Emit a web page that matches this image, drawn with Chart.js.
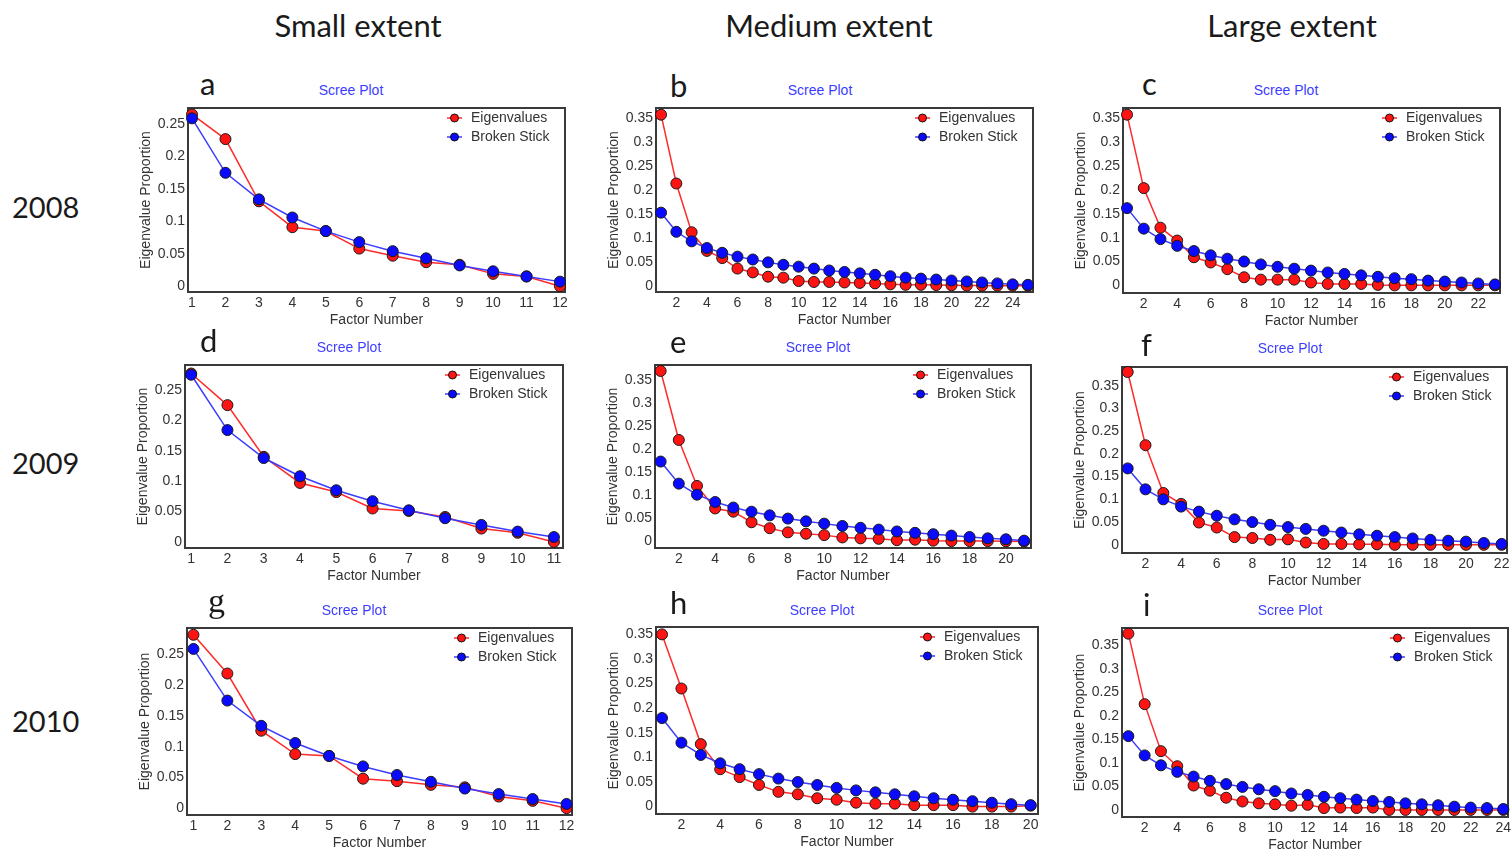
<!DOCTYPE html>
<html>
<head>
<meta charset="utf-8">
<script src="https://cdn.jsdelivr.net/npm/chart.js@4/dist/chart.umd.min.js"></script>
<style>
  body { margin: 0; width: 1511px; height: 855px; position: relative; overflow: hidden; background: #fff; font-family: Lato, sans-serif; }
  .txt { position: absolute; color: #1a1a1a; white-space: nowrap; line-height: 1; }
  .head { font-size: 31px; transform: translateX(-50%); }
  .year { font-size: 29px; }
  .letter { font-size: 31px; }
  .serif { font-family: "Liberation Serif", serif; font-size: 34px; }
  .scree { position: absolute; font: 14px "Liberation Sans", Arial, sans-serif; color: #3c3cff; line-height: 1; white-space: nowrap; transform: translate(-50%, -50%); }
  .panel { position: absolute; }
</style>
</head>
<body>
<div class="txt head" style="left:358px; top:10px">Small extent</div>
<div class="txt head" style="left:829px; top:10px">Medium extent</div>
<div class="txt head" style="left:1292px; top:10px">Large extent</div>

<div class="txt year" style="left:12px; top:192px">2008</div>
<div class="txt year" style="left:12px; top:448px">2009</div>
<div class="txt year" style="left:12px; top:706px">2010</div>

<script>
// Tick labels
const xTicks12 = [1, 2, 3, 4, 5, 6, 7, 8, 9, 10, 11, 12];
const xTicks11 = [1, 2, 3, 4, 5, 6, 7, 8, 9, 10, 11];
const xTicksEven24 = [2, 4, 6, 8, 10, 12, 14, 16, 18, 20, 22, 24];
const xTicksEven22 = [2, 4, 6, 8, 10, 12, 14, 16, 18, 20, 22];
const xTicksEven20 = [2, 4, 6, 8, 10, 12, 14, 16, 18, 20];
const yTicks25 = [0, 0.05, 0.1, 0.15, 0.2, 0.25];
const yTicks35 = [0, 0.05, 0.1, 0.15, 0.2, 0.25, 0.3, 0.35];

// 2008
const eigA = [0.265, 0.227, 0.131, 0.091, 0.085, 0.058, 0.047, 0.037, 0.033, 0.019, 0.015, 0.000];
const stickA = [0.259, 0.175, 0.134, 0.106, 0.085, 0.068, 0.054, 0.043, 0.032, 0.023, 0.015, 0.007];
const eigB = [0.358, 0.214, 0.112, 0.073, 0.058, 0.036, 0.028, 0.019, 0.017, 0.010, 0.008, 0.008, 0.007,
              0.006, 0.005, 0.003, 0.002, 0.002, 0.0015, 0.001, 0.0005, 0.0004, 0.0003, 0.0002, 0.0001];
const stickB = [0.153, 0.113, 0.093, 0.079, 0.069, 0.061, 0.055, 0.049, 0.044, 0.040, 0.036, 0.032, 0.029,
                0.026, 0.023, 0.020, 0.017, 0.015, 0.013, 0.011, 0.009, 0.007, 0.005, 0.003, 0.002];
const eigC = [0.358, 0.204, 0.121, 0.094, 0.059, 0.048, 0.034, 0.017, 0.012, 0.012, 0.012, 0.006,
              0.003, 0.003, 0.003, 0.001, 0, 0, 0, 0, 0, 0, 0];
const stickC = [0.162, 0.119, 0.097, 0.083, 0.072, 0.063, 0.056, 0.050, 0.044, 0.039, 0.035, 0.031,
                0.027, 0.024, 0.021, 0.018, 0.015, 0.013, 0.010, 0.008, 0.006, 0.004, 0.002];

// 2009
const eigD = [0.277, 0.225, 0.140, 0.097, 0.082, 0.055, 0.051, 0.041, 0.022, 0.015, 0.000];
const stickD = [0.275, 0.184, 0.138, 0.108, 0.085, 0.067, 0.052, 0.039, 0.028, 0.017, 0.008];
const eigE = [0.371, 0.221, 0.121, 0.072, 0.065, 0.042, 0.029, 0.020, 0.017, 0.014, 0.009,
              0.007, 0.006, 0.003, 0.004, 0.002, 0.001, 0.001, 0.001, 0.0005, 0];
const stickE = [0.174, 0.126, 0.102, 0.086, 0.074, 0.065, 0.057, 0.050, 0.044, 0.039, 0.034,
                0.030, 0.026, 0.022, 0.019, 0.016, 0.013, 0.010, 0.007, 0.005, 0.002];
const eigF = [0.380, 0.219, 0.114, 0.090, 0.049, 0.038, 0.017, 0.015, 0.011, 0.012, 0.005,
              0.002, 0.002, 0.001, 0.001, 0, 0, 0, 0, 0, 0, 0];
const stickF = [0.168, 0.122, 0.100, 0.084, 0.073, 0.064, 0.056, 0.050, 0.044, 0.039, 0.035,
                0.031, 0.027, 0.023, 0.020, 0.017, 0.014, 0.011, 0.009, 0.007, 0.004, 0.002];

// 2010
const eigG = [0.282, 0.219, 0.126, 0.088, 0.085, 0.048, 0.044, 0.038, 0.034, 0.019, 0.012, 0.000];
const stickG = [0.259, 0.175, 0.134, 0.106, 0.085, 0.068, 0.054, 0.043, 0.032, 0.023, 0.015, 0.007];
const eigH = [0.350, 0.240, 0.127, 0.076, 0.060, 0.044, 0.030, 0.025, 0.017, 0.014,
              0.008, 0.006, 0.006, 0.003, 0.003, 0.003, 0, 0, 0, 0.002];
const stickH = [0.180, 0.130, 0.105, 0.088, 0.076, 0.066, 0.057, 0.050, 0.044, 0.038,
                0.033, 0.029, 0.025, 0.021, 0.017, 0.014, 0.011, 0.008, 0.005, 0.003];
const eigI = [0.375, 0.225, 0.125, 0.093, 0.052, 0.041, 0.026, 0.018, 0.014, 0.012, 0.009, 0.011,
              0.004, 0.005, 0.004, 0.005, 0, 0, 0, 0, 0, 0, 0, 0];
const stickI = [0.157, 0.116, 0.095, 0.081, 0.071, 0.062, 0.055, 0.049, 0.044, 0.040, 0.035, 0.032,
                0.028, 0.025, 0.022, 0.019, 0.017, 0.014, 0.012, 0.010, 0.007, 0.005, 0.004, 0.002];

const SANS = '"Liberation Sans", Arial, sans-serif';
const TEXT = '#333';

// Plot boxes [left, top, right, bottom] and axis ranges for each panel
const panels = [
  { letter: 'a', eig: eigA, stick: stickA, xTicks: xTicks12, yTicks: yTicks25, box: [188, 108, 565, 292], x: [0.88, 12.15], y: [-0.009, 0.275], lt: [200, 68], st: [351, 90] },
  { letter: 'b', eig: eigB, stick: stickB, xTicks: xTicksEven24, yTicks: yTicks35, box: [656, 108, 1033, 292], x: [0.67, 25.33], y: [-0.013, 0.372], lt: [670, 70], st: [820, 90] },
  { letter: 'c', eig: eigC, stick: stickC, xTicks: xTicksEven22, yTicks: yTicks35, box: [1123, 108, 1500, 293], x: [0.76, 23.3], y: [-0.016, 0.372], lt: [1142, 68], st: [1286, 90] },
  { letter: 'd', eig: eigD, stick: stickD, xTicks: xTicks11, yTicks: yTicks25, box: [185, 365, 563, 548], x: [0.83, 11.25], y: [-0.010, 0.291], lt: [200, 325], st: [349, 347] },
  { letter: 'e', eig: eigE, stick: stickE, xTicks: xTicksEven20, yTicks: yTicks35, box: [655, 365, 1031, 548], x: [0.69, 21.38], y: [-0.014, 0.384], lt: [670, 326], st: [818, 347] },
  { letter: 'f', eig: eigF, stick: stickF, xTicks: xTicksEven22, yTicks: yTicks35, box: [1122, 367, 1507, 553], x: [0.68, 22.3], y: [-0.018, 0.391], lt: [1141, 329], st: [1290, 348] },
  { letter: 'g', eig: eigG, stick: stickG, xTicks: xTicks12, yTicks: yTicks25, box: [187, 628, 572, 815], x: [0.81, 12.16], y: [-0.011, 0.293], lt: [208, 584], st: [354, 610], serif: true },
  { letter: 'h', eig: eigH, stick: stickH, xTicks: xTicksEven20, yTicks: yTicks35, box: [656, 627, 1038, 814], x: [0.69, 20.38], y: [-0.015, 0.365], lt: [670, 587], st: [822, 610] },
  { letter: 'i', eig: eigI, stick: stickI, xTicks: xTicksEven24, yTicks: yTicks35, box: [1122, 628, 1508, 817], x: [0.61, 24.29], y: [-0.015, 0.387], lt: [1143, 589], st: [1290, 610] }
];

// dark frame around the plot area
const framePlugin = {
  id: 'frame',
  beforeDatasetsDraw(chart) {
    const { ctx, chartArea: a } = chart;
    ctx.save();
    ctx.strokeStyle = '#3a3a3a';
    ctx.lineWidth = 2;
    ctx.strokeRect(a.left, a.top, a.right - a.left, a.bottom - a.top);
    ctx.restore();
  }
};

// legend drawn inside the top right corner
const legendPlugin = {
  id: 'insideLegend',
  afterDatasetsDraw(chart) {
    const { ctx, chartArea: a } = chart;
    ctx.save();
    chart.data.datasets.forEach((ds, i) => {
      const y = a.top + 10 + i * 19;
      const x0 = a.right - 118;
      ctx.strokeStyle = ds.borderColor;
      ctx.lineWidth = 1.5;
      ctx.beginPath();
      ctx.moveTo(x0, y);
      ctx.lineTo(x0 + 15, y);
      ctx.stroke();
      ctx.fillStyle = ds.pointBackgroundColor;
      ctx.strokeStyle = '#111';
      ctx.lineWidth = 1;
      ctx.beginPath();
      ctx.arc(x0 + 7.5, y, 4, 0, Math.PI * 2);
      ctx.fill();
      ctx.stroke();
      ctx.fillStyle = TEXT;
      ctx.font = '14px ' + SANS;
      ctx.textBaseline = 'middle';
      ctx.fillText(ds.label, x0 + 24, y);
    });
    ctx.restore();
  }
};

const Y_W = 54, PAD_T = 12, PAD_R = 16, X_H = 41;

function addText(cls, text, left, top) {
  const el = document.createElement('div');
  el.className = cls;
  el.textContent = text;
  el.style.left = left + 'px';
  el.style.top = top + 'px';
  document.body.appendChild(el);
}

function drawPanel(p) {
  const [l, t, r, b] = p.box;
  addText(p.serif ? 'txt serif' : 'txt letter', p.letter, p.lt[0], p.lt[1]);
  addText('scree', 'Scree Plot', p.st[0], p.st[1]);

  const wrap = document.createElement('div');
  wrap.className = 'panel';
  wrap.style.left = (l - Y_W) + 'px';
  wrap.style.top = (t - PAD_T) + 'px';
  wrap.style.width = (r - l + Y_W + PAD_R) + 'px';
  wrap.style.height = (b - t + PAD_T + X_H) + 'px';
  const canvas = document.createElement('canvas');
  wrap.appendChild(canvas);
  document.body.appendChild(wrap);

  const font = { family: SANS, size: 14 };
  const pointStyle = {
    borderWidth: 1.5,
    tension: 0,
    pointRadius: 5.5,
    pointBorderWidth: 1,
    pointBorderColor: '#1a1a1a',
    clip: false
  };

  new Chart(canvas, {
    type: 'line',
    data: {
      datasets: [
        Object.assign({
          label: 'Eigenvalues',
          data: p.eig.map((v, i) => ({ x: i + 1, y: v })),
          borderColor: '#ff2a2a',
          pointBackgroundColor: '#ff1414',
          order: 1
        }, pointStyle),
        Object.assign({
          label: 'Broken Stick',
          data: p.stick.map((v, i) => ({ x: i + 1, y: v })),
          borderColor: '#3c3cff',
          pointBackgroundColor: '#0a0aff',
          order: 0
        }, pointStyle)
      ]
    },
    options: {
      responsive: true,
      maintainAspectRatio: false,
      animation: false,
      layout: { padding: { top: PAD_T, right: PAD_R, left: 0, bottom: 0 } },
      plugins: { legend: { display: false }, tooltip: { enabled: false } },
      scales: {
        x: {
          type: 'linear',
          min: p.x[0],
          max: p.x[1],
          grid: { display: false, drawTicks: false },
          border: { display: false },
          afterBuildTicks: s => { s.ticks = p.xTicks.map(v => ({ value: v })); },
          afterFit: s => { s.height = X_H; },
          ticks: { padding: 3, color: TEXT, font, maxRotation: 0, autoSkip: false, callback: v => String(v) },
          title: { display: true, text: 'Factor Number', color: TEXT, font, padding: { top: 0, bottom: 4 } }
        },
        y: {
          min: p.y[0],
          max: p.y[1],
          grid: { display: false, drawTicks: false },
          border: { display: false },
          afterBuildTicks: s => { s.ticks = p.yTicks.map(v => ({ value: v })); },
          afterFit: s => { s.width = Y_W; },
          ticks: { padding: 3, color: TEXT, font, autoSkip: false, callback: v => String(+v.toFixed(2)) },
          title: { display: true, text: 'Eigenvalue Proportion', color: TEXT, font, padding: { top: 4, bottom: 0 } }
        }
      }
    },
    plugins: [framePlugin, legendPlugin]
  });
}

panels.forEach(drawPanel);
</script>
</body>
</html>
